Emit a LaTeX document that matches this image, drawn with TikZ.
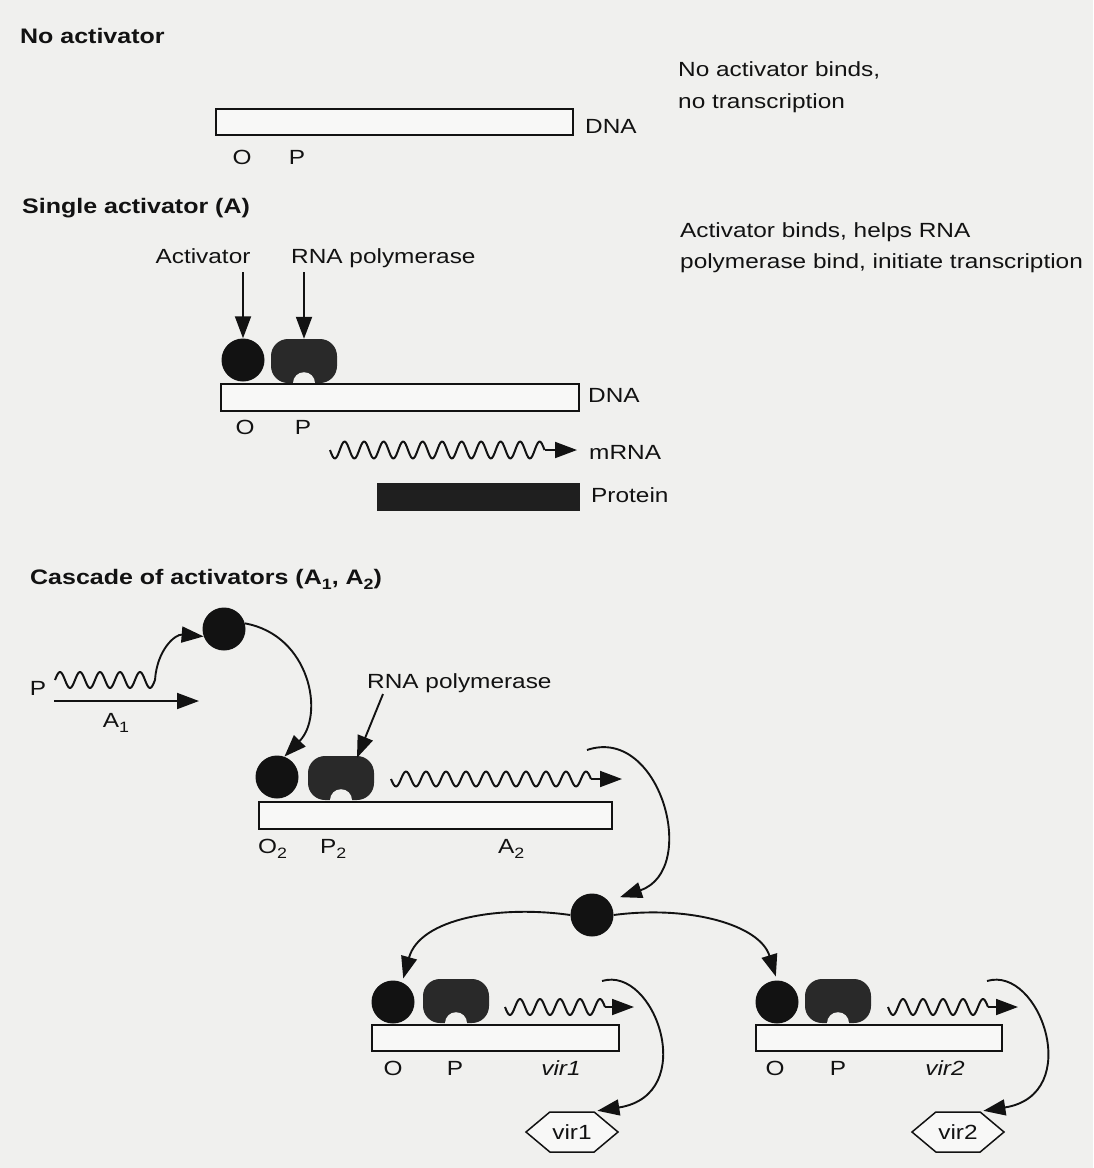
\documentclass[tikz,border=0pt]{standalone}
\usepackage{fontspec}
\setmainfont[FakeStretch=1.19]{Liberation Sans}
\usetikzlibrary{arrows.meta,shapes.symbols}
\definecolor{bgc}{RGB}{240,240,238}
\definecolor{boxc}{RGB}{248,248,247}
\definecolor{ink}{RGB}{18,18,18}
\newcommand\subidx[1]{\raisebox{-0.5ex}{\fontsize{15}{15}\selectfont #1}}
\begin{document}
\begin{tikzpicture}[x=1pt,y=-1pt,
  txt/.style={font=\fontsize{20.5}{24}\selectfont, text=ink, inner sep=0pt},
  head/.style={font=\fontsize{21}{25}\selectfont\bfseries, text=ink, inner sep=0pt, anchor=base west},
  dna/.style={draw=ink, line width=1.8, fill=boxc, inner sep=0pt, anchor=north west},
  act/.style={circle, fill=ink, minimum size=43, inner sep=0pt},
  pol/.style={rectangle, rounded corners=17, fill=black!84, minimum width=66, minimum height=44, inner sep=0pt},
  arr/.style={draw=ink, line width=1.9, -{Triangle[length=22,width=16]}},
  wline/.style={draw=ink, line width=2, line join=round},
  hexa/.style={signal, signal to=west and east, signal pointer angle=80, draw=ink, line width=1.5, fill=boxc, minimum width=92, minimum height=40, inner sep=0pt, font=\fontsize{20.5}{24}\selectfont, text=ink},
]
\fill[bgc] (0,0) rectangle (1093,1168);
\useasboundingbox (0,0) rectangle (1093,1168);

% ---------- No activator ----------
\node[head] (h1) at (20,43) {No activator};
\node[dna, minimum width=357, minimum height=26] (dna1) at (215,108) {};
\node[txt, anchor=base west] (dnal1) at (585,133) {DNA};
\node[txt, anchor=base] (o1) at (242,164) {O};
\node[txt, anchor=base] (p1) at (297,164) {P};
\node[txt, anchor=base west] (n1a) at (678,76) {No activator binds,};
\node[txt, anchor=base west] (n1b) at (678,108) {no transcription};

% ---------- Single activator ----------
\node[head] (h2) at (22,213) {Single activator (A)};
\node[txt, anchor=base] (lact) at (203,263) {Activator};
\node[txt, anchor=base west] (lrnap) at (291,263) {RNA polymerase};
\node[act] (a2) at (243,360) {};
\node[pol] (r2) at (304,361) {};
\fill[bgc] (r2.south) circle[radius=11];
\node[dna, minimum width=358, minimum height=27] (dna2) at (220,383) {};
\coordinate (aa) at (243,272);
\coordinate (ar) at (304,272);
\draw[arr] (aa) -- (a2.north);
\draw[arr] (ar) -- (r2.north);
\node[txt, anchor=base west] (dnal2) at (588,402) {DNA};
\node[txt, anchor=base] (o2) at (245,434) {O};
\node[txt, anchor=base] (p2) at (303,434) {P};
\coordinate (m2e) at (577,450);
\draw[wline] plot[smooth, domain=0:214.5, samples=160, variable=\t] ({330+\t},{450+8.5*sin(\t*18.4615)});
\draw[arr] (544.5,450) -- (m2e);
\node[txt, anchor=base west] (mrna) at (589,459) {mRNA};
\node[rectangle, fill=black!88, minimum width=203, minimum height=28, inner sep=0pt, anchor=north west] (prot) at (377,483) {};
\node[txt, anchor=base west] (protl) at (591,502) {Protein};
\node[txt, anchor=base west] (n2a) at (680,237) {Activator binds, helps RNA};
\node[txt, anchor=base west] (n2b) at (680,268) {polymerase bind, initiate transcription};

% ---------- Cascade ----------
\node[head] (h3) at (30,584) {Cascade of activators (A\subidx{1}, A\subidx{2})};
\node[act] (c1) at (224,629) {};
\node[txt, anchor=base] (pA) at (38,695) {P};
\coordinate (w1e) at (155,680);
\draw[wline] plot[smooth, domain=0:100, samples=90, variable=\t] ({55+\t},{680-8*sin(\t*18)});
\coordinate (s1s) at (54,701);
\coordinate (s1e) at (199,701);
\draw[arr] (s1s) -- (s1e);
\node[txt, anchor=base] (A1) at (116,727) {A\subidx{1}};
\draw[arr] (w1e) .. controls (157,650) and (175,634) .. (c1.200);
\node[act] (o2c) at (277,777) {};
\node[pol] (r3) at (341,778) {};
\fill[bgc] (r3.south) circle[radius=11];
\draw[arr] (c1.15) .. controls (310,635) and (325,715) .. (o2c.70);
\node[txt, anchor=base west] (lrnap3) at (367,688) {RNA polymerase};
\coordinate (ar3) at (383,694);
\draw[arr] (ar3) -- ([xshift=16,yshift=-2]r3.north);
\node[dna, minimum width=353, minimum height=27] (dna3) at (258,801) {};
\coordinate (w3e) at (622,779);
\draw[wline] plot[smooth, domain=0:200, samples=150, variable=\t] ({391+\t},{779+7.5*sin(\t*18)});
\draw[arr] (591,779) -- (w3e);
\node[txt, anchor=base west] (O2l) at (258,853) {O\subidx{2}};
\node[txt, anchor=base west] (P2l) at (320,853) {P\subidx{2}};
\node[txt, anchor=base west] (A2l) at (498,853) {A\subidx{2}};

\node[act] (cm) at (592,915) {};
\coordinate (a2s) at (587,750);
\draw[arr, shorten >=12] (a2s) .. controls (660,725) and (700,870) .. (cm.40);

% vir1 operon
\node[act] (v1c) at (393,1002) {};
\node[pol] (v1r) at (456,1001) {};
\fill[bgc] (v1r.south) circle[radius=11];
\node[dna, minimum width=247, minimum height=26] (dna4) at (371,1024) {};
\coordinate (w4e) at (634,1007);
\draw[wline] plot[smooth, domain=0:100, samples=90, variable=\t] ({505+\t},{1007+8*sin(\t*18)});
\draw[arr] (605,1007) -- (w4e);
\node[txt, anchor=base] (o4) at (393,1075) {O};
\node[txt, anchor=base] (p4) at (455,1075) {P};
\node[txt, anchor=base] (g4) at (561,1075) {\itshape vir1};
\node[hexa] (hx1) at (572,1132) {vir1};
\coordinate (v1s) at (602,981);
\draw[arr, shorten >=3] (v1s) .. controls (655,965) and (700,1095) .. (hx1.north east);

% vir2 operon
\node[act] (v2c) at (777,1002) {};
\node[pol] (v2r) at (838,1001) {};
\fill[bgc] (v2r.south) circle[radius=11];
\node[dna, minimum width=246, minimum height=26] (dna5) at (755,1024) {};
\coordinate (w5e) at (1018,1007);
\draw[wline] plot[smooth, domain=0:100, samples=90, variable=\t] ({888+\t},{1007+8*sin(\t*18)});
\draw[arr] (988,1007) -- (w5e);
\node[txt, anchor=base] (o5) at (775,1075) {O};
\node[txt, anchor=base] (p5) at (838,1075) {P};
\node[txt, anchor=base] (g5) at (945,1075) {\itshape vir2};
\node[hexa] (hx2) at (958,1132) {vir2};
\coordinate (v2s) at (987,981);
\draw[arr, shorten >=3] (v2s) .. controls (1040,965) and (1085,1095) .. (hx2.north east);

% branches from middle activator
\draw[arr, shorten >=4] (cm.west) .. controls (500,905) and (420,918) .. (v1c.65);
\draw[arr, shorten >=4] (cm.east) .. controls (690,905) and (760,925) .. (v2c.north);
\end{tikzpicture}
\end{document}
